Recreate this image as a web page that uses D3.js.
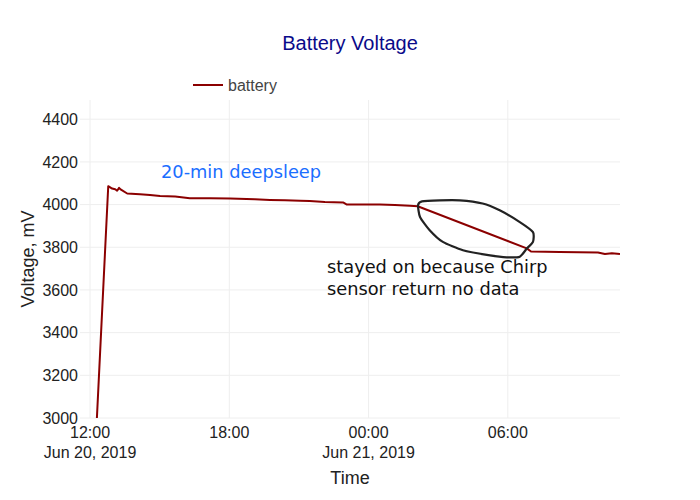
<!DOCTYPE html>
<html>
<head>
<meta charset="utf-8">
<script src="https://cdn.jsdelivr.net/npm/d3@7"></script>
<style>
	body { margin: 0; background: #fff; }
	svg { font-family: "Liberation Sans", Arial, sans-serif; }
	.grid line { stroke: #eee; stroke-width: 1; }
	.note { font-family: "DejaVu Sans", Verdana, sans-serif; font-size: 17.8px; }
</style>
</head>
<body>
<div class="container"></div>
<script>
var times = [
	'2019-06-20 12:15', '2019-06-20 12:47', '2019-06-20 12:57', '2019-06-20 13:05',
	'2019-06-20 13:10', '2019-06-20 13:15', '2019-06-20 13:20', '2019-06-20 13:36',
	'2019-06-20 14:09', '2019-06-20 14:35', '2019-06-20 15:01', '2019-06-20 15:40',
	'2019-06-20 16:18', '2019-06-20 17:10', '2019-06-20 18:02', '2019-06-20 19:06',
	'2019-06-20 19:45', '2019-06-20 20:24', '2019-06-20 21:03', '2019-06-20 21:28',
	'2019-06-20 22:07', '2019-06-20 22:54', '2019-06-20 23:04', '2019-06-21 00:29',
	'2019-06-21 01:08', '2019-06-21 01:47', '2019-06-21 02:07', '2019-06-21 06:49',
	'2019-06-21 07:00', '2019-06-21 08:14', '2019-06-21 09:53', '2019-06-21 10:11',
	'2019-06-21 10:29', '2019-06-21 10:50'
];
var voltages = [
	2900, 4086, 4075, 4072,
	4065, 4078, 4070, 4052,
	4048, 4045, 4040, 4038,
	4030, 4030, 4028, 4025,
	4022, 4020, 4018, 4017,
	4012, 4010, 4000, 4000,
	3998, 3995, 3992, 3795,
	3780, 3778, 3775, 3768,
	3772, 3768
];

// hand-drawn loop around the gap, in data units
var loopTimes = [
	'2019-06-21 02:08', '2019-06-21 02:18', '2019-06-21 03:04', '2019-06-21 03:56',
	'2019-06-21 04:55', '2019-06-21 05:39', '2019-06-21 06:31', '2019-06-21 07:05',
	'2019-06-21 07:05', '2019-06-21 06:49', '2019-06-21 06:31', '2019-06-21 05:57',
	'2019-06-21 05:14', '2019-06-21 04:04', '2019-06-21 03:12', '2019-06-21 02:38',
	'2019-06-21 02:13'
];
var loopVoltages = [
	3997, 4015, 4020, 4020,
	4005, 3973, 3918, 3871,
	3825, 3794, 3756, 3753,
	3762, 3786, 3825, 3880,
	3942
];

var yTicks = [3000, 3200, 3400, 3600, 3800, 4000, 4200, 4400];
var xDomain = ['2019-06-20 11:34', '2019-06-21 10:50'];
var yDomain = [3000, 4490];

var parse = d3.timeParse('%Y-%m-%d %H:%M');

var width = 700,
	height = 500,
	plotLeft = 80,
	plotRight = 620,
	plotTop = 100,
	plotBottom = 418;

var svg = d3.select('.container')
	.append('svg')
	.attr('width', width)
	.attr('height', height);

var x = d3.scaleTime()
	.domain(xDomain.map(parse))
	.range([plotLeft, plotRight]);

var y = d3.scaleLinear()
	.domain(yDomain)
	.range([plotBottom, plotTop]);

var xTicks = d3.timeHour.every(6).range(x.domain()[0], x.domain()[1]);

// grid
var grid = svg.append('g').classed('grid', true);

grid.selectAll('.gx')
	.data(xTicks)
	.enter().append('line')
	.attr('x1', function (d) { return x(d); })
	.attr('x2', function (d) { return x(d); })
	.attr('y1', plotTop)
	.attr('y2', plotBottom);

grid.selectAll('.gy')
	.data(yTicks)
	.enter().append('line')
	.attr('x1', plotLeft)
	.attr('x2', plotRight)
	.attr('y1', function (d) { return y(d); })
	.attr('y2', function (d) { return y(d); });

// clip
svg.append('clipPath')
	.attr('id', 'plot')
	.append('rect')
	.attr('x', plotLeft)
	.attr('y', plotTop)
	.attr('width', plotRight - plotLeft)
	.attr('height', plotBottom - plotTop);

var data = times.map(function (t, i) {
	return { t: parse(t), v: voltages[i] };
});

var line = d3.line()
	.x(function (d) { return x(d.t); })
	.y(function (d) { return y(d.v); });

svg.append('path')
	.datum(data)
	.attr('clip-path', 'url(#plot)')
	.attr('fill', 'none')
	.attr('stroke', '#8b0000')
	.attr('stroke-width', 2)
	.attr('stroke-linejoin', 'round')
	.attr('d', line);

// loop annotation
var loop = loopTimes.map(function (t, i) {
	return { t: parse(t), v: loopVoltages[i] };
});

svg.append('path')
	.datum(loop)
	.attr('fill', 'none')
	.attr('stroke', '#222')
	.attr('stroke-width', 2.2)
	.attr('d', line.curve(d3.curveCardinalClosed.tension(0.4)));

// y axis labels
svg.append('g')
	.selectAll('text')
	.data(yTicks)
	.enter().append('text')
	.attr('x', plotLeft - 2)
	.attr('y', function (d) { return y(d); })
	.attr('dy', '0.36em')
	.attr('text-anchor', 'end')
	.style('font-size', '16px')
	.style('fill', '#222')
	.text(function (d) { return d; });

// x axis labels
var fmtTime = d3.timeFormat('%H:%M'),
	fmtDate = d3.timeFormat('%b %-d, %Y');

var xl = svg.append('g')
	.selectAll('text')
	.data(xTicks)
	.enter().append('text')
	.attr('text-anchor', 'middle')
	.style('font-size', '16px')
	.style('fill', '#222');

xl.append('tspan')
	.attr('x', function (d) { return x(d); })
	.attr('y', plotBottom + 20)
	.text(function (d) { return fmtTime(d); });

xl.append('tspan')
	.attr('x', function (d) { return x(d); })
	.attr('y', plotBottom + 40)
	.text(function (d, i) {
		return (i === 0 || d.getHours() === 0) ? fmtDate(d) : '';
	});

// axis titles
svg.append('text')
	.attr('x', 350)
	.attr('y', 484)
	.attr('text-anchor', 'middle')
	.style('font-size', '18px')
	.style('fill', '#222')
	.text('Time');

svg.append('text')
	.attr('transform', 'translate(34,' + ((plotTop + plotBottom) / 2) + ') rotate(-90)')
	.attr('text-anchor', 'middle')
	.style('font-size', '18px')
	.style('fill', '#222')
	.text('Voltage, mV');

// title
svg.append('text')
	.attr('x', 350)
	.attr('y', 50)
	.attr('text-anchor', 'middle')
	.style('font-size', '20px')
	.style('fill', '#0a0a8a')
	.text('Battery Voltage');

// legend
svg.append('line')
	.attr('x1', 193)
	.attr('x2', 223)
	.attr('y1', 85)
	.attr('y2', 85)
	.attr('stroke', '#8b0000')
	.attr('stroke-width', 2);

svg.append('text')
	.attr('x', 228)
	.attr('y', 91)
	.style('font-size', '16px')
	.style('fill', '#444')
	.text('battery');

// notes
svg.append('text')
	.classed('note', true)
	.attr('x', 161)
	.attr('y', 178)
	.style('fill', '#1a6eff')
	.text('20-min deepsleep');

var note = svg.append('text')
	.classed('note', true)
	.style('fill', '#111');

note.append('tspan')
	.attr('x', 327)
	.attr('y', 273)
	.text('stayed on because Chirp');

note.append('tspan')
	.attr('x', 327)
	.attr('y', 295)
	.text('sensor return no data');
</script>
</body>
</html>
